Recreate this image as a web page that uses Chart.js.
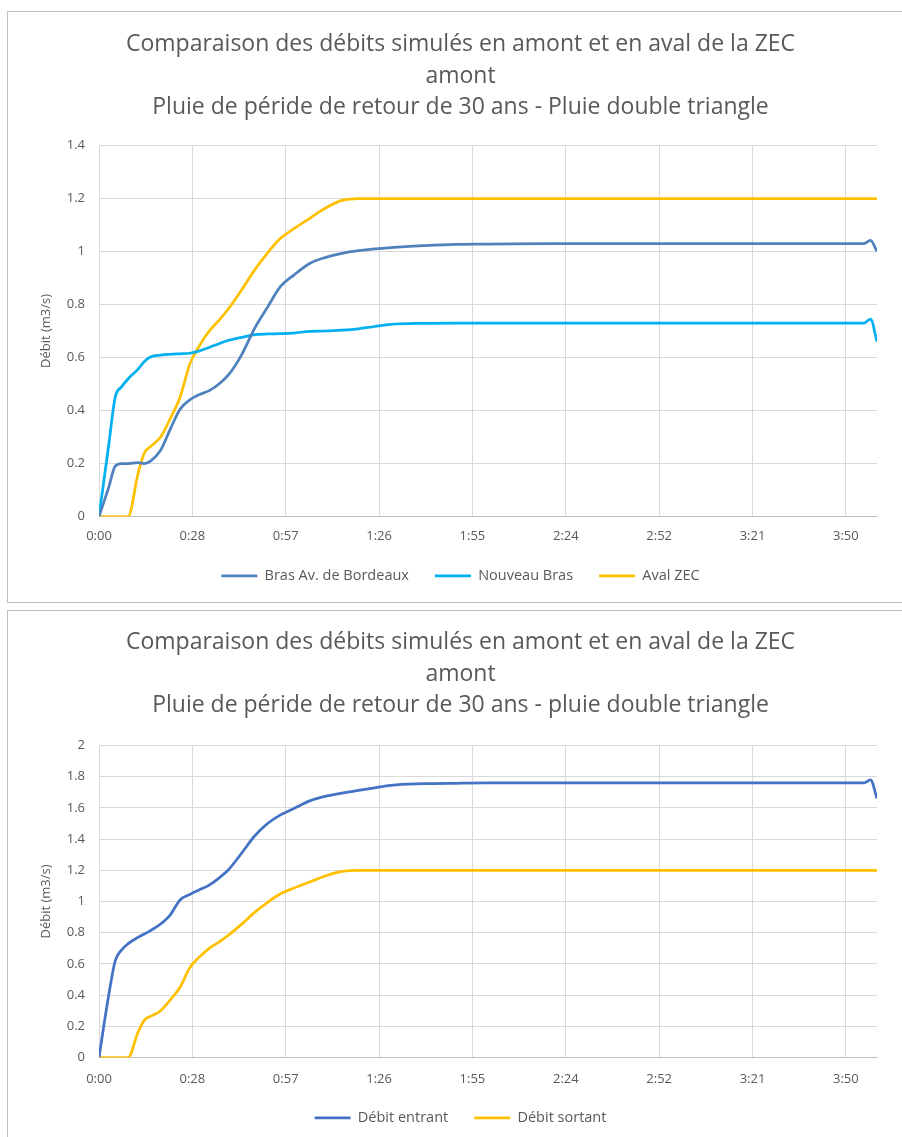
<!DOCTYPE html>
<html>
<head>
<meta charset="utf-8">
<script src="https://cdn.jsdelivr.net/npm/chart.js@4.4.1/dist/chart.umd.min.js"></script>
<style>
  html, body { margin: 0; padding: 0; background: #fff; overflow: hidden; }
  body { width: 902px; height: 1137px; position: relative; }
  .box { position: absolute; left: 7px; width: 920px; border: 1px solid #bfbfbf; background: #fff; }
  #box1 { top: 11px; height: 590px; }
  #box2 { top: 610px; height: 540px; }
  canvas { display: block; }
</style>
</head>
<body>
<div class="box" id="box1"><canvas id="chart1" width="904" height="590"></canvas></div>
<div class="box" id="box2"><canvas id="chart2" width="904" height="526"></canvas></div>
<script>
// temps en minutes (axe x en valeur)
const timeMin = [0, 3, 5, 7, 9, 12, 14, 16, 19, 22, 25, 28, 31, 34, 37, 40, 44, 48, 52, 56,
  60, 65, 70, 75, 80, 85, 90, 100, 110, 120, 140, 160, 180, 200, 220, 233, 236, 238, 240];

const brasBordeaux = [0, 0.11, 0.19, 0.2, 0.2, 0.203, 0.2, 0.21, 0.25, 0.33, 0.405, 0.44, 0.46, 0.475, 0.5,
  0.535, 0.61, 0.71, 0.79, 0.868, 0.91, 0.955, 0.978, 0.993, 1.003, 1.01, 1.015, 1.022, 1.027, 1.028,
  1.03, 1.03, 1.03, 1.03, 1.03, 1.03, 1.03, 1.042, 1.0];
const nouveauBras = [0, 0.27, 0.45, 0.49, 0.52, 0.555, 0.585, 0.603, 0.609, 0.612, 0.614, 0.616, 0.625, 0.638, 0.652,
  0.665, 0.676, 0.686, 0.689, 0.69, 0.692, 0.699, 0.7, 0.703, 0.708, 0.717, 0.725, 0.729, 0.73, 0.73,
  0.73, 0.73, 0.73, 0.73, 0.73, 0.73, 0.73, 0.745, 0.66];
const avalZEC = [0, 0, 0, 0, 0, 0.16, 0.24, 0.265, 0.3, 0.37, 0.45, 0.575, 0.645, 0.7, 0.74,
  0.785, 0.855, 0.93, 0.995, 1.05, 1.085, 1.125, 1.165, 1.193, 1.2, 1.2, 1.2, 1.2, 1.2, 1.2,
  1.2, 1.2, 1.2, 1.2, 1.2, 1.2, 1.2, 1.2, 1.2];

const debitEntrant = [0, 0.4, 0.62, 0.69, 0.73, 0.77, 0.792, 0.815, 0.856, 0.915, 1.01, 1.045, 1.075, 1.105, 1.15,
  1.205, 1.31, 1.42, 1.5, 1.555, 1.595, 1.645, 1.675, 1.695, 1.712, 1.728, 1.745, 1.755, 1.758, 1.76,
  1.76, 1.76, 1.76, 1.76, 1.76, 1.76, 1.76, 1.78, 1.66];
const debitSortant = [0, 0, 0, 0, 0, 0.16, 0.24, 0.265, 0.3, 0.37, 0.45, 0.575, 0.645, 0.7, 0.74,
  0.785, 0.855, 0.93, 0.995, 1.05, 1.085, 1.125, 1.165, 1.193, 1.2, 1.2, 1.2, 1.2, 1.2, 1.2,
  1.2, 1.2, 1.2, 1.2, 1.2, 1.2, 1.2, 1.2, 1.2];

// graduations de l'axe x : pas de 0.02 jour = 28.8 min
const xTickValues = [0, 28.8, 57.6, 86.4, 115.2, 144, 172.8, 201.6, 230.4];
const xTickLabels = ["0:00", "0:28", "0:57", "1:26", "1:55", "2:24", "2:52", "3:21", "3:50"];

const FONT = "'Open Sans', sans-serif";
const TXT = "#595959";
const GRID = "#d9d9d9";

function toPoints(values) {
  return values.map((v, i) => ({ x: timeMin[i], y: v }));
}

function serie(label, values, color) {
  return {
    label: label,
    data: toPoints(values),
    borderColor: color,
    backgroundColor: color,
    borderWidth: 2.75,
    pointRadius: 0,
    pointStyle: "line",
    cubicInterpolationMode: "monotone",
    fill: false
  };
}

function makeChart(id, cfg, datasets) {
  const ctx = document.getElementById(id);
  return new Chart(ctx, {
    type: "line",
    data: { datasets: datasets },
    options: {
      responsive: false,
      animation: false,
      layout: { padding: { left: 36, right: 35, top: 0, bottom: cfg.bottomPad } },
      plugins: {
        title: {
          display: true,
          text: cfg.title,
          color: TXT,
          font: { family: FONT, size: 23, weight: "normal", lineHeight: 31.5 / 23 },
          padding: { top: cfg.titleTop, bottom: cfg.titleBottom }
        },
        legend: {
          position: "bottom",
          labels: {
            color: TXT,
            font: { family: FONT, size: 14.5 },
            usePointStyle: true,
            pointStyle: "line",
            pointStyleWidth: 36,
            padding: 26
          }
        },
        tooltip: { enabled: false }
      },
      scales: {
        x: {
          type: "linear",
          min: 0,
          max: 240,
          afterBuildTicks: s => { s.ticks = xTickValues.map(v => ({ value: v })); },
          afterFit: s => { s.height = cfg.xHeight; },
          ticks: {
            color: TXT,
            font: { family: FONT, size: 13 },
            padding: cfg.xPad,
            maxRotation: 0,
            callback: (v, i) => xTickLabels[i]
          },
          grid: { color: GRID, drawTicks: false },
          border: { color: "#bfbfbf" }
        },
        y: {
          min: 0,
          max: cfg.yMax,
          afterFit: s => { s.width = 55; },
          ticks: {
            stepSize: 0.2,
            color: TXT,
            font: { family: FONT, size: 13 },
            padding: 14,
            callback: v => String(+v.toFixed(1))
          },
          grid: { color: GRID, drawTicks: false },
          border: { display: false },
          title: {
            display: true,
            text: "Débit (m3/s)",
            color: TXT,
            font: { family: FONT, size: 13 },
            padding: { top: -6, bottom: 0 }
          }
        }
      }
    }
  });
}

makeChart("chart1", {
  title: [
    "Comparaison des débits simulés en amont et en aval de la ZEC",
    "amont",
    "Pluie de péride de retour de 30 ans - Pluie double triangle"
  ],
  titleTop: 17, titleBottom: 22, yMax: 1.4, xHeight: 26, xPad: 12, bottomPad: 9
}, [
  serie("Bras Av. de Bordeaux", brasBordeaux, "#4f81bd"),
  serie("Nouveau Bras", nouveauBras, "#00b0f0"),
  serie("Aval ZEC", avalZEC, "#ffc000")
]);

makeChart("chart2", {
  title: [
    "Comparaison des débits simulés en amont et en aval de la ZEC",
    "amont",
    "Pluie de péride de retour de 30 ans - pluie double triangle"
  ],
  titleTop: 16, titleBottom: 24, yMax: 2, xHeight: 27, xPad: 14, bottomPad: 2
}, [
  serie("Débit entrant", debitEntrant, "#4472c4"),
  serie("Débit sortant", debitSortant, "#ffc000")
]);
</script>
</body>
</html>
